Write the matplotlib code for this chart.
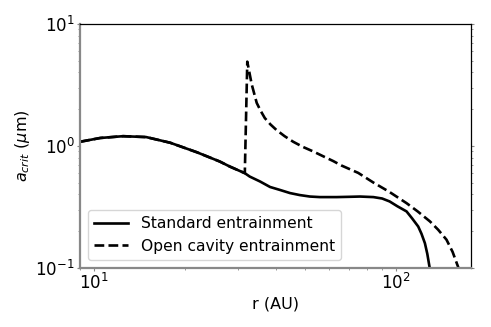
import numpy as np
import matplotlib
matplotlib.use("Agg")
import matplotlib.pyplot as plt

# (r in AU, a_crit in micron)
r_std = [9.0, 10.5, 12.5, 14.9, 17.9, 21.9, 26.1, 28.2, 31.6, 32.8, 35.5, 38.3,
         41.3, 44.6, 48.0, 51.9, 56.0, 63.6, 70.0, 76.0, 84.2, 90.0, 95.3,
         101.0, 108.4, 113.0, 118.5, 121.5, 124.7, 127.0, 129.3]
a_std = [1.08, 1.16, 1.20, 1.18, 1.06, 0.887, 0.744, 0.676, 0.597, 0.56, 0.51,
         0.46, 0.435, 0.41, 0.395, 0.384, 0.38, 0.38, 0.382, 0.384, 0.38, 0.37,
         0.35, 0.32, 0.29, 0.255, 0.218, 0.19, 0.159, 0.13, 0.10]

r_open = [9.0, 10.5, 12.5, 14.9, 17.9, 21.9, 26.1, 28.2, 31.6, 32.2, 33.3,
          34.6, 35.6, 36.8, 38.4, 40.2, 42.8, 45.7, 49.2, 53.2, 57.5, 62.0,
          66.0, 75.0, 84.2, 95.0, 108.4, 118.0, 129.6, 138.0, 147.0, 154.0,
          161.0]
a_open = [1.08, 1.16, 1.20, 1.18, 1.06, 0.887, 0.744, 0.676, 0.597, 4.9, 3.2,
          2.25, 1.95, 1.69, 1.50, 1.35, 1.20, 1.08, 0.98, 0.90, 0.82, 0.75,
          0.69, 0.60, 0.50, 0.42, 0.339, 0.29, 0.24, 0.205, 0.17, 0.135,
          0.10]

fig, ax = plt.subplots(figsize=(4.91, 3.27), dpi=100)
fig.subplots_adjust(left=0.163, right=0.959, top=0.927, bottom=0.181)

ax.plot(r_std, a_std, "k-", lw=1.9, label="Standard entrainment")
ax.plot(r_open, a_open, "k--", lw=1.9, label="Open cavity entrainment")

ax.set_xscale("log")
ax.set_yscale("log")
ax.set_xlim(9.0, 177)
ax.set_ylim(0.1, 10)

ax.set_xlabel("r (AU)", fontsize=11.5, labelpad=2)
ax.set_ylabel(r"$a_{crit}$ ($\mu$m)", fontsize=11.5, labelpad=2)
ax.tick_params(labelsize=12)

# gray left/bottom, black top/right like the original
for s in ["left", "bottom"]:
    ax.spines[s].set_color("#888888")
    ax.spines[s].set_linewidth(1.6)
for s in ["top", "right"]:
    ax.spines[s].set_color("black")
    ax.spines[s].set_linewidth(0.9)
ax.tick_params(axis="both", which="major", length=2.5, pad=1.5, color="#888888")
ax.tick_params(axis="both", which="minor", length=1.5, color="#888888")
ax.tick_params(axis="y", which="both", right=True, labelright=False)

ax.legend(loc="lower left", fontsize=11.2, handlelength=2.2, borderaxespad=0.5)

fig.savefig("out.png", dpi=100)
